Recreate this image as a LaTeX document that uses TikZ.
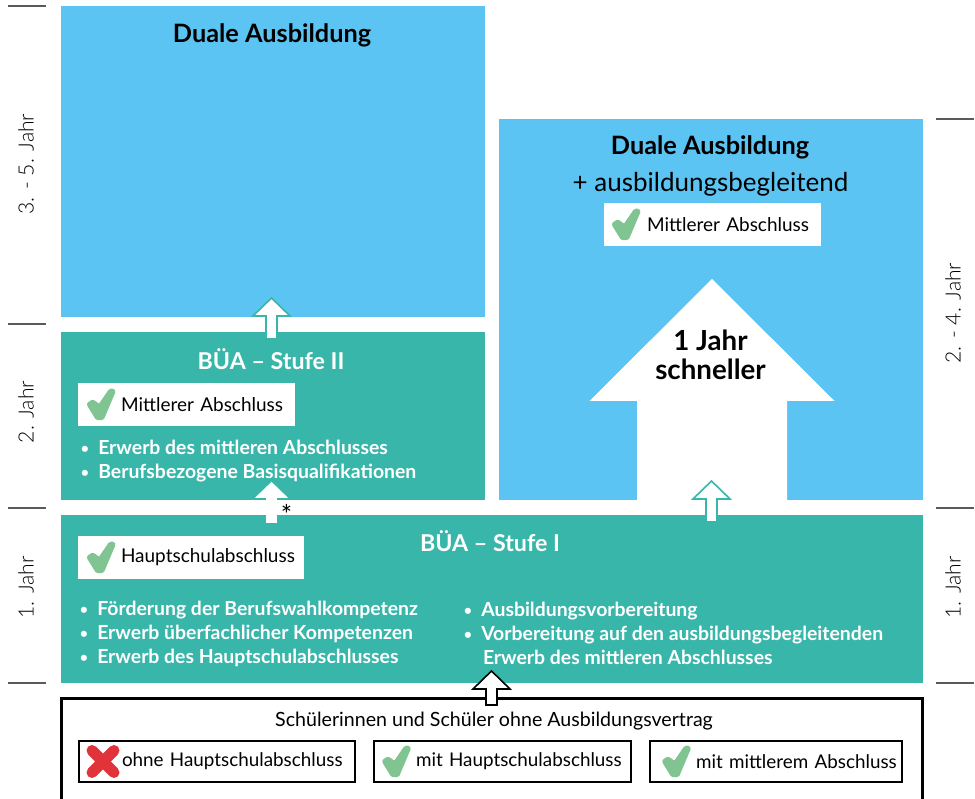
\documentclass[tikz,border=0pt]{standalone}
\usepackage{fontspec}
\setmainfont{Lato}
\newfontfamily\lightfont{Lato Light}
\usetikzlibrary{calc}
\definecolor{colblue}{RGB}{91,196,242}
\definecolor{colteal}{RGB}{57,182,170}
\definecolor{colgreen}{RGB}{128,196,145}
\definecolor{colred}{RGB}{225,52,58}
\definecolor{coltick}{RGB}{90,90,90}
\newlength\px
\setlength\px{0.025cm}
\newcommand{\bul}{\makebox[18\px][l]{\hspace*{0.5\px}\raisebox{1\px}{\fontsize{10}{10}\selectfont\textbullet}}}
\tikzset{
  % COLOURED BLOCKS
  frameBlue/.style={
    rectangle, fill=colblue, inner sep=0pt
  },
  frameTeal/.style={
    rectangle, fill=colteal, inner sep=0pt
  },
  % WHITE LABELS
  frameLabel/.style={
    rectangle, fill=white, inner sep=0pt, minimum height=43\px,
    align=left, font=\fontsize{13.5}{15}\selectfont
  },
  frameOpen/.style={
    rectangle, fill=white, draw=black, line width=2\px, inner sep=0pt,
    minimum height=41\px, align=left, font=\fontsize{13.4}{15}\selectfont
  },
  frameHead/.style={
    inner sep=0pt, font=\fontsize{18}{20}\selectfont\bfseries
  },
  frameStufe/.style={
    inner sep=0pt, text=white, font=\fontsize{16.5}{20}\selectfont\bfseries
  },
  frameList/.style={
    inner sep=0pt, anchor=west, align=left, text=white,
    font=\fontsize{13.8}{17.1}\selectfont\bfseries
  },
  frameYear/.style={
    inner sep=0pt, rotate=90, font=\fontsize{15}{17}\lightfont
  },
  % BLOCK ARROWS: head half width, head length, shaft half width
  blockArrow/.style n args={3}{
    line width=1.6\px, line join=miter,
    to path={let \p1=(\tikztostart), \p2=(\tikztotarget) in
      (\x1-#3,\y1) -- (\x1-#3,\y2-#2) -- (\x1-#1,\y2-#2) -- (\x2,\y2)
      -- (\x1+#1,\y2-#2) -- (\x1+#3,\y2-#2) -- (\x1+#3,\y1) -- cycle}
  },
  lineTick/.style={
    draw=coltick, line width=1.2\px
  },
  checkMark/.pic={
    \filldraw[colgreen, line width=5.5\px, line join=round]
      (-10,0) -- (-7,-2) -- (0,3) -- (11,-13) -- (13,-13) -- (2,13) -- (-2,13) -- cycle;
  },
  crossMark/.pic={
    \draw[colred, line width=11\px, line cap=round] (-11,-11) -- (11,11) (-11,11) -- (11,-11);
  }
}
\begin{document}
\begin{tikzpicture}[x=1\px,y=-1\px]
\clip (0,0) rectangle (975,799);

% Blocks
\node [frameBlue, minimum width=424\px, minimum height=311\px] (duale_left) at (273,161.5) {};
\node [frameBlue, minimum width=424\px, minimum height=381\px] (duale_right) at (711,309.5) {};
\node [frameTeal, minimum width=424\px, minimum height=168\px] (stufe_two) at (273,416) {};
\node [frameTeal, minimum width=862\px, minimum height=168\px] (stufe_one) at (492,599) {};
\node [rectangle, draw=black, line width=2.2\px, minimum width=861\px, minimum height=140\px] (pupils) at (492,768.5) {};

% Big arrow
\coordinate (big_start) at (712,500);
\coordinate (big_tip) at (712,279);
\draw [blockArrow={122.5\px}{122\px}{75\px}, draw=none, fill=white] (big_start) to (big_tip);

% Headings
\node [frameHead] (head_left) at (272,35) {Duale Ausbildung};
\node [frameHead] (head_right) at (710,147) {Duale Ausbildung};
\node [inner sep=0pt, font=\fontsize{18.5}{20}\selectfont] (head_plus) at (710.5,184) {+ ausbildungsbegleitend};
\node [frameStufe] (head_two) at (271,359) {BÜA – Stufe II};
\node [frameStufe] (head_one) at (490,541) {BÜA – Stufe I};
\node [frameHead, align=center, font=\fontsize{19.7}{20.6}\selectfont\bfseries] (faster) at (710.5,355) {1 Jahr\\schneller};

% Labels
\node [frameLabel, text width=217\px] (label_two) at (186.5,404.5) {\hspace*{43\px}Mittlerer Abschluss};
\node [frameLabel, text width=226\px] (label_one) at (191,557.5) {\hspace*{43\px}Hauptschulabschluss};
\node [frameLabel, text width=217\px] (label_right) at (712.5,224.5) {\hspace*{43\px}Mittlerer Abschluss};

% Lists
\node [frameList] (list_two) at (80,461) {\bul Erwerb des mittleren Abschlusses\\\bul Berufsbezogene Basisqualifikationen};
\node [frameList] (list_one) at (79,634) {\bul Förderung der Berufswahlkompetenz\\\bul Erwerb überfachlicher Kompetenzen\\\bul Erwerb des Hauptschulabschlusses};
\node [frameList] (list_three) at (463,633) {\bul Ausbildungsvorbereitung\\\bul Vorbereitung auf den ausbildungsbegleitenden\\\hspace*{15\px} Erwerb des mittleren Abschlusses};

% Pupils
\node [inner sep=0pt, font=\fontsize{13.95}{15}\selectfont] (pupils_text) at (494,721) {Schülerinnen und Schüler ohne Ausbildungsvertrag};
\node [frameOpen, text width=276\px] (pupils_none) at (217,761.5) {\hspace*{43\px}ohne Hauptschulabschluss};
\node [frameOpen, text width=257\px] (pupils_main) at (502.5,761.5) {\hspace*{42\px}mit Hauptschulabschluss};
\node [frameOpen, text width=252\px] (pupils_mid) at (776,761.5) {\hspace*{46\px}mit mittlerem Abschluss};

% Marks
\pic at ($(label_two.west)+(22,0)$) {checkMark};
\pic at ($(label_one.west)+(22,0)$) {checkMark};
\pic at ($(label_right.west)+(21,0)$) {checkMark};
\pic at ($(pupils_none.west)+(25,0)$) {crossMark};
\pic at ($(pupils_main.west)+(22,0)$) {checkMark};
\pic at ($(pupils_mid.west)+(26,0)$) {checkMark};

% Arrows
\coordinate (one_start) at (271.5,522);
\coordinate (one_tip) at (271.5,483);
\coordinate (two_start) at (271.5,339);
\coordinate (two_tip) at (271.5,298);
\coordinate (three_start) at (711.5,522);
\coordinate (three_tip) at (711.5,481);
\coordinate (four_start) at (491.5,705);
\coordinate (four_tip) at (491.5,671);
\draw [blockArrow={14.5\px}{14\px}{4.5\px}, draw=white, fill=white] (one_start) to (one_tip);
\draw [blockArrow={18.5\px}{18\px}{5.5\px}, draw=colteal, fill=white] (two_start) to (two_tip);
\draw [blockArrow={18.5\px}{18\px}{5.5\px}, draw=colteal, fill=white] (three_start) to (three_tip);
\draw [blockArrow={18.5\px}{18\px}{5.5\px}, draw=black, fill=white] (four_start) to (four_tip);
\node [inner sep=0pt, font=\fontsize{19}{20}\selectfont] (note) at (286.5,514) {*};

% Year ticks
\foreach \y/\n in {6/a,324/b,508/c,683/d} {
  \coordinate (tick_l\n) at (8,\y);
  \draw [lineTick] (tick_l\n) -- ++(38,0);
}
\foreach \y/\n in {119/a,508/b,683/c} {
  \coordinate (tick_r\n) at (936,\y);
  \draw [lineTick] (tick_r\n) -- ++(38,0);
}

% Year labels
\node [frameYear] (year_a) at (26,164) {3. - 5. Jahr};
\node [frameYear] (year_b) at (26,412) {2. Jahr};
\node [frameYear] (year_c) at (26,587.5) {1. Jahr};
\node [frameYear] (year_d) at (953,313) {2. - 4. Jahr};
\node [frameYear] (year_e) at (953,587.5) {1. Jahr};

\end{tikzpicture}
\end{document}
